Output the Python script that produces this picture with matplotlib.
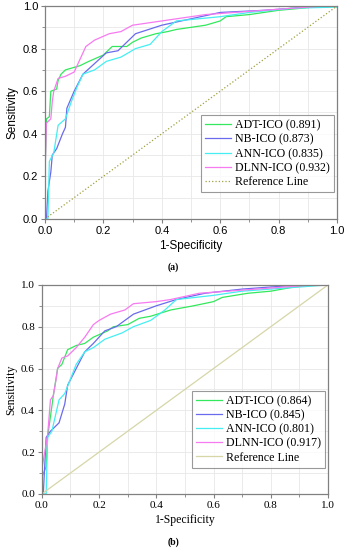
import matplotlib.pyplot as plt
import numpy as np
from matplotlib.ticker import MultipleLocator

# ---- panel (a) ROC points (1-specificity, sensitivity) ----
adt_a_x = [0, 0, 0.005, 0.015, 0.02, 0.04, 0.045, 0.055, 0.07, 0.12, 0.15, 0.2, 0.23, 0.28, 0.3, 0.33, 0.38, 0.42, 0.45, 0.55, 0.6, 0.62, 0.7, 0.75, 0.8, 0.88, 0.95, 1.0]
adt_a_y = [0, 0.2, 0.47, 0.48, 0.6, 0.61, 0.65, 0.68, 0.70, 0.72, 0.74, 0.77, 0.81, 0.81, 0.83, 0.85, 0.87, 0.88, 0.89, 0.91, 0.93, 0.95, 0.96, 0.97, 0.98, 0.99, 1.0, 1.0]
nb_a_x = [0, 0.005, 0.01, 0.02, 0.025, 0.04, 0.06, 0.07, 0.075, 0.1, 0.13, 0.17, 0.21, 0.25, 0.28, 0.31, 0.4, 0.5, 0.6, 0.75, 0.85, 0.9, 1.0]
nb_a_y = [0, 0, 0.13, 0.22, 0.3, 0.33, 0.4, 0.43, 0.52, 0.6, 0.68, 0.73, 0.78, 0.79, 0.83, 0.87, 0.91, 0.94, 0.97, 0.98, 0.99, 1.0, 1.0]
ann_a_x = [0, 0.01, 0.015, 0.03, 0.045, 0.07, 0.09, 0.11, 0.13, 0.17, 0.21, 0.26, 0.31, 0.36, 0.4, 0.45, 0.6, 0.7, 0.85, 1.0]
ann_a_y = [0, 0, 0.27, 0.31, 0.44, 0.47, 0.55, 0.62, 0.68, 0.70, 0.74, 0.76, 0.80, 0.82, 0.88, 0.93, 0.95, 0.97, 0.99, 0.995]
dlnn_a_x = [0, 0, 0.005, 0.02, 0.025, 0.03, 0.045, 0.07, 0.1, 0.12, 0.14, 0.17, 0.22, 0.26, 0.3, 0.35, 0.4, 0.45, 0.55, 0.65, 0.75, 0.85, 0.95, 1.0]
dlnn_a_y = [0, 0.2, 0.45, 0.47, 0.55, 0.6, 0.66, 0.67, 0.69, 0.75, 0.81, 0.84, 0.87, 0.88, 0.91, 0.92, 0.93, 0.94, 0.96, 0.97, 0.98, 0.99, 1.0, 1.0]

# ---- panel (b) ----
adt_b_x = [0, 0, 0.015, 0.02, 0.03, 0.04, 0.055, 0.07, 0.09, 0.12, 0.15, 0.18, 0.23, 0.25, 0.3, 0.34, 0.38, 0.45, 0.53, 0.6, 0.63, 0.72, 0.8, 0.88, 0.95, 1.0]
adt_b_y = [0, 0.08, 0.13, 0.27, 0.37, 0.47, 0.6, 0.62, 0.69, 0.71, 0.72, 0.75, 0.78, 0.80, 0.81, 0.84, 0.85, 0.88, 0.90, 0.92, 0.94, 0.96, 0.97, 0.99, 1.0, 1.0]
nb_b_x = [0, 0.005, 0.015, 0.03, 0.06, 0.08, 0.09, 0.12, 0.15, 0.18, 0.22, 0.26, 0.32, 0.4, 0.47, 0.57, 0.7, 0.8, 0.9, 1.0]
nb_b_y = [0, 0, 0.27, 0.3, 0.34, 0.43, 0.52, 0.6, 0.68, 0.72, 0.78, 0.80, 0.86, 0.90, 0.93, 0.96, 0.98, 0.99, 1.0, 1.0]
ann_b_x = [0, 0.015, 0.02, 0.035, 0.06, 0.08, 0.1, 0.12, 0.15, 0.18, 0.22, 0.28, 0.32, 0.38, 0.43, 0.47, 0.6, 0.7, 0.9, 1.0]
ann_b_y = [0, 0, 0.27, 0.3, 0.45, 0.48, 0.55, 0.62, 0.68, 0.70, 0.74, 0.77, 0.80, 0.83, 0.88, 0.93, 0.95, 0.97, 0.99, 1.0]
dlnn_b_x = [0, 0, 0.01, 0.02, 0.03, 0.04, 0.05, 0.055, 0.07, 0.09, 0.12, 0.15, 0.18, 0.2, 0.24, 0.29, 0.32, 0.4, 0.45, 0.55, 0.65, 0.75, 0.85, 0.95, 1.0]
dlnn_b_y = [0, 0.12, 0.2, 0.28, 0.45, 0.47, 0.55, 0.6, 0.65, 0.66, 0.70, 0.75, 0.81, 0.83, 0.86, 0.88, 0.91, 0.92, 0.93, 0.96, 0.97, 0.98, 0.99, 1.0, 1.0]

labels_a = ['ADT-ICO (0.891)', 'NB-ICO (0.873)', 'ANN-ICO (0.835)', 'DLNN-ICO (0.932)']
labels_b = ['ADT-ICO (0.864)', 'NB-ICO (0.845)', 'ANN-ICO (0.801)', 'DLNN-ICO (0.917)']
colors = ['#33e85c', '#6a6aee', '#44eef2', '#f77af0']

fig = plt.figure(figsize=(3.46, 5.5), dpi=100)
ax_a = fig.add_axes([0.130, 0.602, 0.844, 0.387])
ax_b = fig.add_axes([0.121, 0.102, 0.827, 0.380])

serif = 'Liberation Serif'
sans = 'Liberation Sans'


def style_axes(ax, tick_font):
    ax.set_xlim(0, 1)
    ax.set_ylim(0, 1)
    ax.xaxis.set_major_locator(MultipleLocator(0.2))
    ax.yaxis.set_major_locator(MultipleLocator(0.2))
    ax.xaxis.set_minor_locator(MultipleLocator(0.1))
    ax.yaxis.set_minor_locator(MultipleLocator(0.1))
    ax.grid(True, which='both', color='#e8e8e8', lw=0.6)
    ax.set_axisbelow(True)
    for s in ax.spines.values():
        s.set_color('#808080')
        s.set_linewidth(0.9)
    ax.tick_params(which='major', direction='out', length=3, width=0.8, color='#808080', labelsize=8, pad=2)
    ax.tick_params(which='minor', direction='out', length=2, width=0.6, color='#808080')
    for lbl in ax.get_xticklabels() + ax.get_yticklabels():
        lbl.set_fontfamily(tick_font)


def add_legend(ax):
    leg = ax.legend(loc='lower right', bbox_to_anchor=(0.99, 0.125), prop={'family': serif, 'size': 8.6},
                    frameon=True, fancybox=False, edgecolor='#808080', handlelength=2.2,
                    handletextpad=0.3, labelspacing=0.18, borderpad=0.35, borderaxespad=0.0)
    leg.get_frame().set_linewidth(0.8)


# panel (a)
series_a = [(adt_a_x, adt_a_y), (nb_a_x, nb_a_y), (ann_a_x, ann_a_y), (dlnn_a_x, dlnn_a_y)]
for (x, y), lab, c in zip(series_a, labels_a, colors):
    ax_a.plot(x, y, color=c, lw=0.9, label=lab)
ax_a.plot([0, 1], [0, 1], color='#a0a040', lw=0.9, ls=':', label='Reference Line')
style_axes(ax_a, sans)
ax_a.set_xlabel('1-Specificity', fontsize=8.5, fontfamily=sans, labelpad=3)
ax_a.set_ylabel('Sensitivity', fontsize=8.5, fontfamily=sans, labelpad=3)
add_legend(ax_a)
fig.text(0.5, 1 - 267 / 550, '(a)', ha='center', va='center', fontsize=7, fontfamily=serif, fontweight='bold')

# panel (b)
series_b = [(adt_b_x, adt_b_y), (nb_b_x, nb_b_y), (ann_b_x, ann_b_y), (dlnn_b_x, dlnn_b_y)]
for (x, y), lab, c in zip(series_b, labels_b, colors):
    ax_b.plot(x, y, color=c, lw=0.9, label=lab)
ax_b.plot([0, 1], [0, 1], color='#d6d6a8', lw=0.9, label='Reference Line')
style_axes(ax_b, serif)
ax_b.set_xlabel('1-Specificity', fontsize=8.5, fontfamily=serif, labelpad=3)
ax_b.set_ylabel('Sensitivity', fontsize=8.5, fontfamily=serif, labelpad=3)
add_legend(ax_b)
fig.text(0.5, 1 - 542 / 550, '(b)', ha='center', va='center', fontsize=7, fontfamily=serif, fontweight='bold')

fig.savefig('out.png', dpi=100)
